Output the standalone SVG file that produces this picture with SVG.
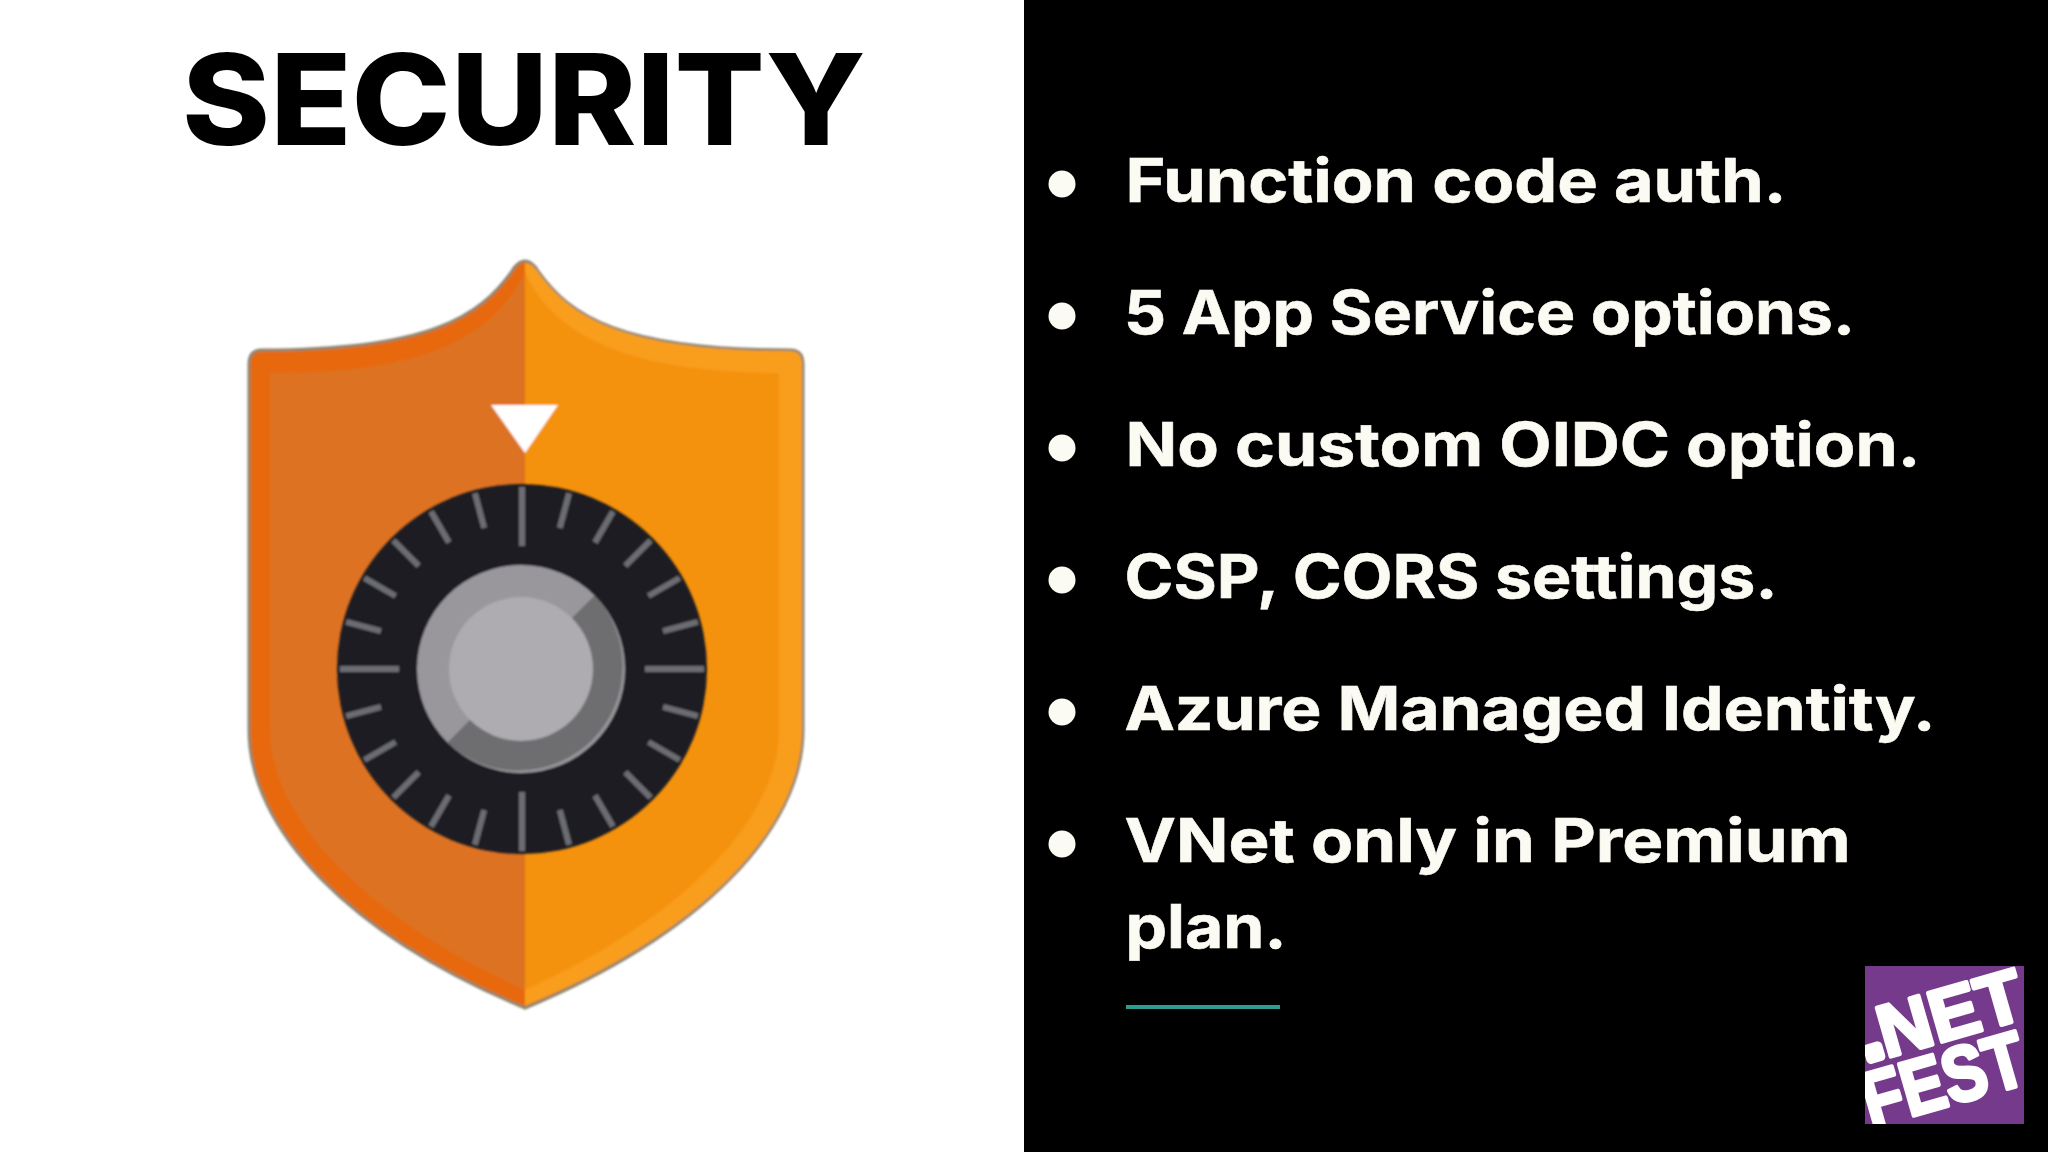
<svg xmlns="http://www.w3.org/2000/svg" width="2048" height="1152" viewBox="0 0 2048 1152">
<style>
.t{font-family:"Inter","Open Sans","Liberation Sans",sans-serif;font-weight:700;font-size:60px;fill:#fbfaf3;stroke:#fbfaf3;stroke-width:.6}
.h{font-family:"Inter","Open Sans","Liberation Sans",sans-serif;font-weight:800;font-size:126px;fill:#000}
.b{fill:#fbfaf3}
.k{stroke:#6c6d73;stroke-width:6;fill:none}
.l{font-family:"Liberation Sans",sans-serif;font-weight:700;fill:#fff;stroke:#fff;stroke-width:4;stroke-linejoin:round}
</style>
<defs>
<line id="maj" class="k" x1="522" y1="487" x2="522" y2="546"/>
<line id="min" class="k" x1="522" y1="487" x2="522" y2="523"/>
<clipPath id="lc"><rect x="1865" y="966" width="159" height="158"/></clipPath>
<filter id="soft" x="-5%" y="-5%" width="110%" height="110%"><feGaussianBlur stdDeviation="1"/></filter>
</defs>
<rect width="2048" height="1152" fill="#fff"/>
<rect x="1024" width="1024" height="1152" fill="#000"/>
<text id="title" class="h" x="182" y="145" textLength="684" lengthAdjust="spacingAndGlyphs">SECURITY</text>
<g id="shield" filter="url(#soft)">
<path d="M525 261Q518 261 512 271C480 316 430 350 262 350Q249 350 249 364L249 730C249 830 350 935 525 1008C700 935 803 830 803 730L803 364Q803 350 790 350C620 350 570 316 538 271Q532 261 525 261Z" fill="#e8690c" stroke="#8f8570" stroke-width="3"/>
<path d="M525 263Q532 263 538 272C570 316 620 351 790 351Q802 351 802 364L802 730C802 830 700 934 525 1006Z" fill="#f99d1f"/>
<path d="M525 272C495 330 440 373 270 373L270 730C270 820 370 920 525 990Z" fill="#dd7222"/>
<path d="M525 272C550 330 620 373 779 373L779 730C779 820 680 920 525 990Z" fill="#f4920d"/>
<path d="M491 405H558L525 453Z" fill="#fff"/>
</g>
<g id="dial" filter="url(#soft)">
<circle cx="522" cy="669" r="185" fill="#1c1b20"/>
<use href="#maj"/>
<use href="#min" transform="rotate(15 522 669)"/>
<use href="#min" transform="rotate(30 522 669)"/>
<use href="#min" transform="rotate(45 522 669)"/>
<use href="#min" transform="rotate(60 522 669)"/>
<use href="#min" transform="rotate(75 522 669)"/>
<use href="#maj" transform="rotate(90 522 669)"/>
<use href="#min" transform="rotate(105 522 669)"/>
<use href="#min" transform="rotate(120 522 669)"/>
<use href="#min" transform="rotate(135 522 669)"/>
<use href="#min" transform="rotate(150 522 669)"/>
<use href="#min" transform="rotate(165 522 669)"/>
<use href="#maj" transform="rotate(180 522 669)"/>
<use href="#min" transform="rotate(195 522 669)"/>
<use href="#min" transform="rotate(210 522 669)"/>
<use href="#min" transform="rotate(225 522 669)"/>
<use href="#min" transform="rotate(240 522 669)"/>
<use href="#min" transform="rotate(255 522 669)"/>
<use href="#maj" transform="rotate(270 522 669)"/>
<use href="#min" transform="rotate(285 522 669)"/>
<use href="#min" transform="rotate(300 522 669)"/>
<use href="#min" transform="rotate(315 522 669)"/>
<use href="#min" transform="rotate(330 522 669)"/>
<use href="#min" transform="rotate(345 522 669)"/>
<circle cx="521" cy="669" r="104" fill="#9a979c"/>
<path d="M594.5 595.5A104 104 0 0 1 447.5 742.5Z" fill="#6e6d70"/>
<circle cx="521" cy="669" r="72" fill="#aeacb1"/>
</g>
<g id="bullets">
<circle class="b" cx="1062" cy="184" r="13.5"/>
<circle class="b" cx="1062" cy="316" r="13.5"/>
<circle class="b" cx="1062" cy="448" r="13.5"/>
<circle class="b" cx="1062" cy="580" r="13.5"/>
<circle class="b" cx="1062" cy="712" r="13.5"/>
<circle class="b" cx="1062" cy="844" r="13.5"/>
<text class="t" x="1125.5" y="202" textLength="661" lengthAdjust="spacingAndGlyphs">Function code auth.</text>
<text class="t" x="1124" y="333.5" textLength="731" lengthAdjust="spacingAndGlyphs">5 App Service options.</text>
<text class="t" x="1125.5" y="465.5" textLength="795" lengthAdjust="spacingAndGlyphs">No custom OIDC option.</text>
<text class="t" x="1124.5" y="597.5" textLength="653" lengthAdjust="spacingAndGlyphs">CSP, CORS settings.</text>
<text class="t" x="1124.5" y="729.5" textLength="811" lengthAdjust="spacingAndGlyphs">Azure Managed Identity.</text>
<text class="t" x="1124.5" y="861.5" textLength="726" lengthAdjust="spacingAndGlyphs">VNet only in Premium</text>
<text class="t" x="1125.5" y="948" textLength="161" lengthAdjust="spacingAndGlyphs">plan.</text>
</g>
<rect id="rule" x="1126" y="1005" width="154" height="4" fill="#2c9c8f"/>
<g id="logo">
<rect x="1865" y="966" width="159" height="158" fill="#763a8c"/>
<g clip-path="url(#lc)">
<text class="l" font-size="74" transform="translate(1886 1058) rotate(-16)"><tspan x="-20" y="-3" stroke-width="9">.</tspan><tspan x="0" y="0">NET</tspan></text>
<text class="l" font-size="78" textLength="166" lengthAdjust="spacingAndGlyphs" transform="translate(1871 1128) rotate(-16)">FEST</text>
</g>
</g>
</svg>
